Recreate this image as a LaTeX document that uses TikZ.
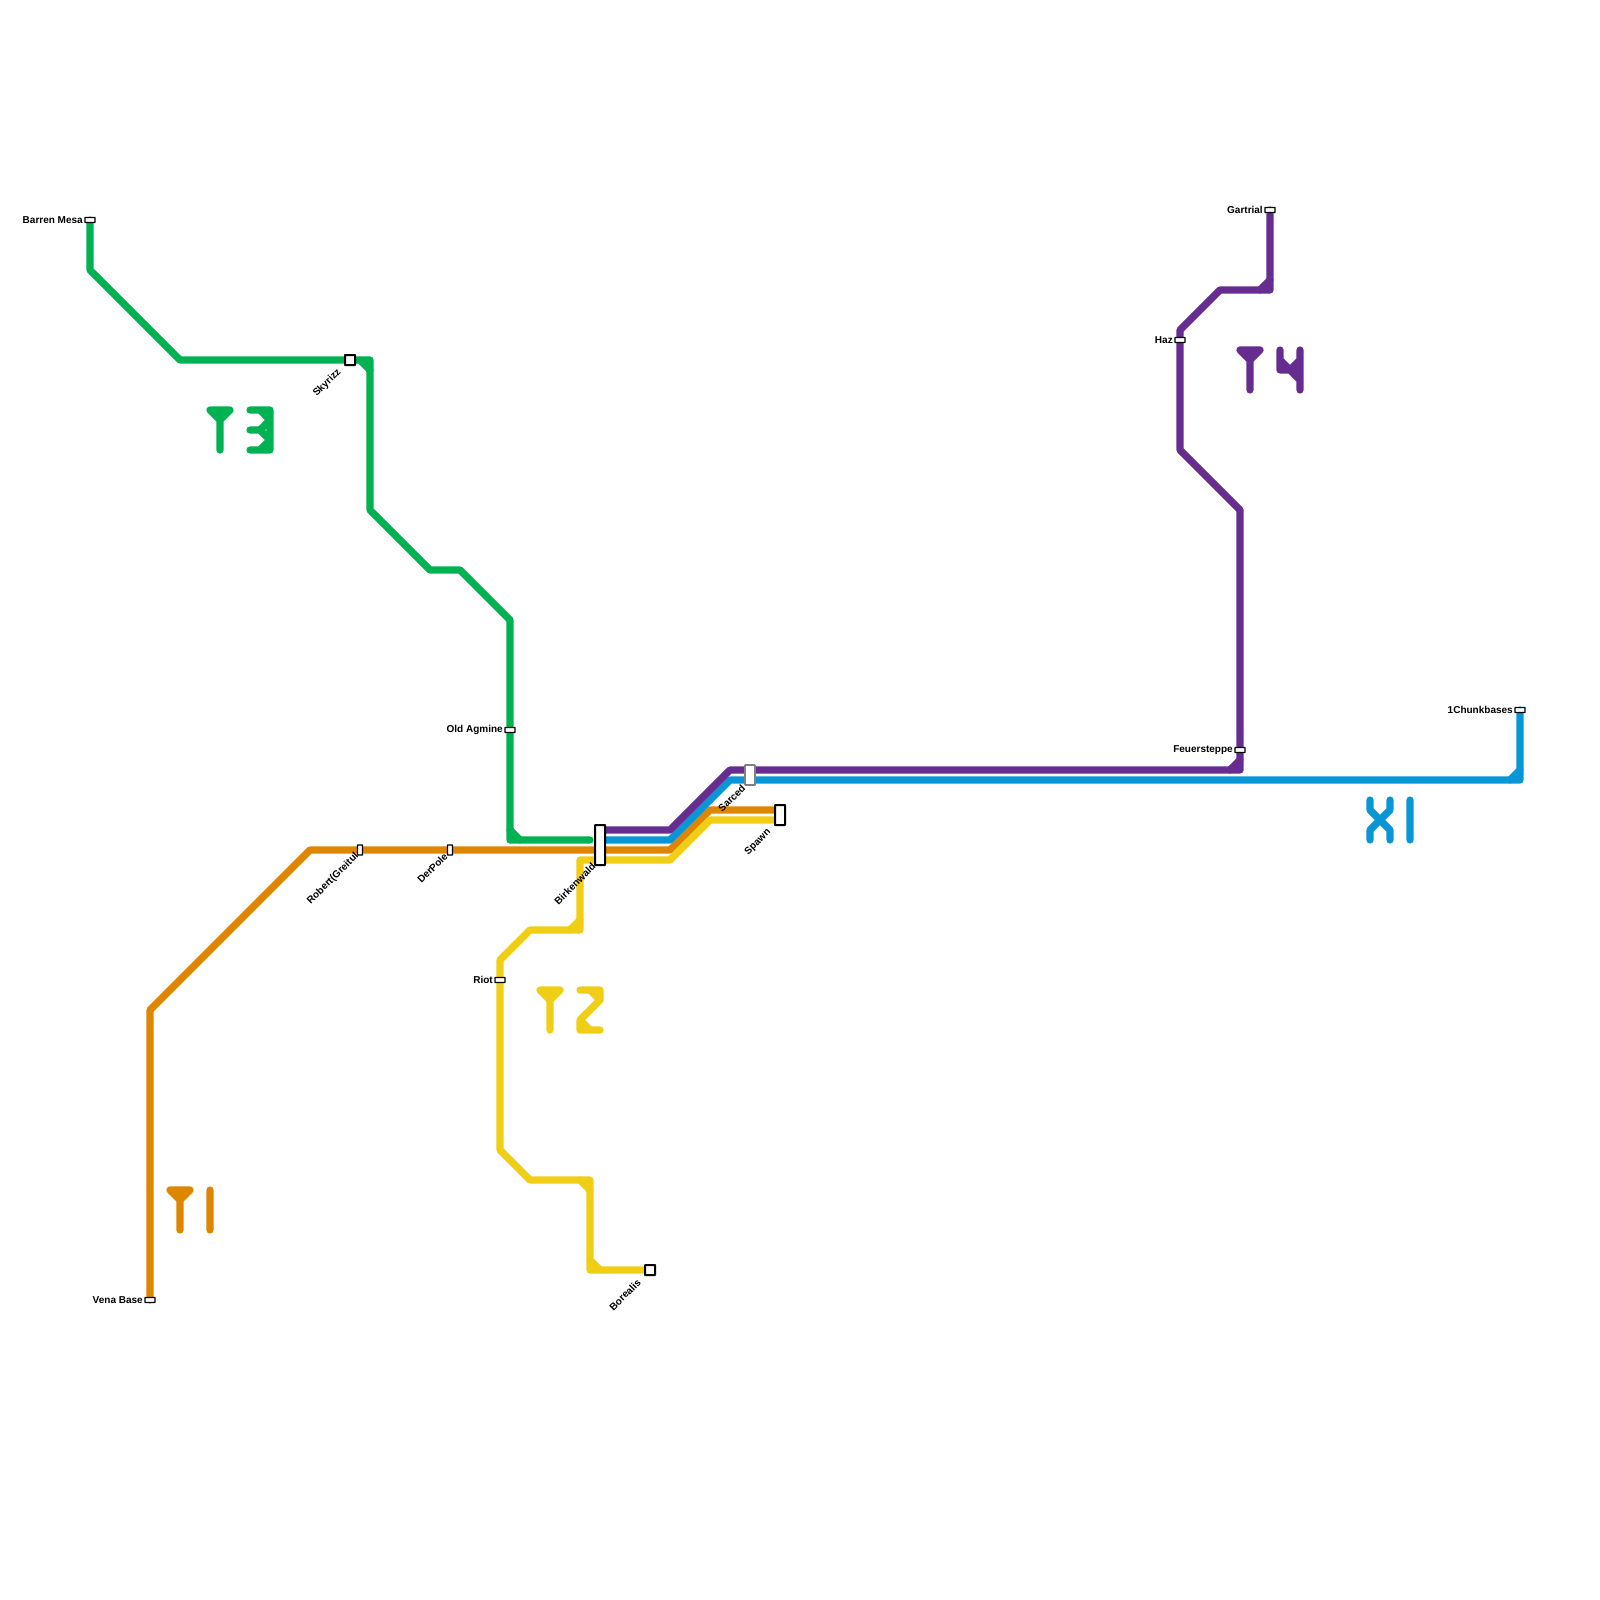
\documentclass[tikz,border=0pt]{standalone}
\usepackage{fontspec}
\setmainfont{Liberation Sans}
\usetikzlibrary{backgrounds}
\definecolor{cG}{HTML}{00B251}
\definecolor{cO}{HTML}{DF8600}
\definecolor{cY}{HTML}{F0CE15}
\definecolor{cB}{HTML}{0896D7}
\definecolor{cP}{HTML}{662C90}
\tikzset{
  x=0.5pt,y=-0.5pt,
  metro/.style={line width=3.6pt,line join=round,line cap=round},
  stn/.style={draw=black,fill=white,line width=0.65pt,inner sep=0pt,rounded corners=0.2pt},
  stnH/.style={stn,minimum width=5pt,minimum height=2.5pt},
  stnV/.style={stn,minimum width=2.5pt,minimum height=5pt},
  stnS/.style={stn,line width=1pt,minimum width=5pt,minimum height=5pt},
  stnT/.style={stn,line width=1pt,minimum width=5pt,minimum height=10pt},
  lab/.style={inner sep=0pt,font=\bfseries\fontsize{5}{6}\selectfont,text=black},
  labL/.style={lab,anchor=east},
  labR/.style={lab,anchor=east,rotate=45},
}
\begin{document}
\begin{tikzpicture}
\useasboundingbox (0,0) rectangle (1600,1600);
% stations
\node[stnH] (barren) at (90,220) {};
\node[stnH] (gartrial) at (1270,210) {};
\node[stnH] (haz) at (1180,340) {};
\node[stnH] (feuer) at (1240,750) {};
\node[stnH] (chunk) at (1520,710) {};
\node[stnH] (agmine) at (510,730) {};
\node[stnH] (riot) at (500,980) {};
\node[stnH] (vena) at (150,1300) {};
\node[stnV] (robert) at (360,850) {};
\node[stnV] (derpole) at (450,850) {};
\node[stnS] (skyrizz) at (350,360) {};
\node[stnS] (boreal) at (650,1270) {};
\node[stnT,minimum height=20pt] (birken) at (600,845) {};
\node[stnT,draw=black!50,line width=0.8pt] (sarced) at (750,775) {};
\node[stnT] (spawn) at (780,815) {};
\coordinate (greenEnd) at (590,840);
% labels
\node[labL] (lBarren) at ([xshift=-0.6pt]barren.west) {Barren Mesa};
\node[labL] (lGartrial) at ([xshift=-0.6pt]gartrial.west) {Gartrial};
\node[labL] (lHaz) at ([xshift=-0.6pt]haz.west) {Haz};
\node[labL] (lFeuer) at ([xshift=-0.6pt]feuer.west) {Feuersteppe};
\node[labL] (lChunk) at ([xshift=-0.6pt]chunk.west) {1Chunkbases};
\node[labL] (lAgmine) at ([xshift=-0.6pt]agmine.west) {Old Agmine};
\node[labL] (lRiot) at ([xshift=-0.6pt]riot.west) {Riot};
\node[labL] (lVena) at ([xshift=-0.6pt]vena.west) {Vena Base};
\node[labR] (lSky) at ([xshift=-2.2pt,yshift=-2.2pt]skyrizz.south west) {Skyrizz};
\node[labR] (lRobert) at ([xshift=0.2pt,yshift=0.6pt]robert.south west) {Robert(Greitul};
\node[labR] (lDer) at ([xshift=-0.4pt,yshift=0.6pt]derpole.south west) {DerPole};
\node[labR] (lBirken) at ([xshift=0pt,yshift=0.6pt]birken.south west) {Birkenwald};
\node[labR] (lSarced) at ([xshift=-0.2pt,yshift=-0.2pt]sarced.south west) {Sarced};
\node[labR] (lSpawn) at ([xshift=-2.2pt,yshift=-2.2pt]spawn.south west) {Spawn};
\node[labR] (lBoreal) at ([xshift=-2.4pt,yshift=-2.2pt]boreal.south west) {Borealis};
\begin{pgfonlayer}{background}
% green
\draw[metro,cG] (barren.center) -- (90,270) -- (180,360) -- (370,360) -- (370,510) -- (430,570) -- (460,570) -- (510,620) -- (510,840) -- (greenEnd);
\draw[metro,cG] (360,360) -- (370,370) (510,830) -- (520,840);
% orange
\draw[metro,cO] (vena.center) -- (150,1010) -- (310,850) -- (670,850) -- (710,810) -- (spawn.center |- 0,810);
% yellow
\draw[metro,cY] (boreal.center) -- (590,1270) -- (590,1180) -- (530,1180) -- (500,1150) -- (500,960) -- (530,930) -- (580,930) -- (580,860) -- (670,860) -- (710,820) -- (spawn.center |- 0,820);
\draw[metro,cY] (580,1180) -- (590,1190) (590,1260) -- (600,1270) (570,930) -- (580,920);
% blue
\draw[metro,cB] (chunk.center) -- (1520,780) -- (730,780) -- (670,840) -- (birken.center |- 0,840);
\draw[metro,cB] (1510,780) -- (1520,770);
% purple
\draw[metro,cP] (gartrial.center) -- (1270,290) -- (1220,290) -- (1180,330) -- (1180,450) -- (1240,510) -- (1240,770) -- (730,770) -- (670,830) -- (birken.center |- 0,830);
\draw[metro,cP] (1260,290) -- (1270,280) (1230,770) -- (1240,760);
\end{pgfonlayer}
% T1
\draw[metro,cO] (170,1190) -- (190,1190) -- (180,1200) -- cycle (180,1190) -- (180,1230) (210,1190) -- (210,1230);
% T3
\draw[metro,cG] (210,410) -- (230,410) -- (220,420) -- cycle (220,410) -- (220,450);
\draw[metro,cG] (250,410) -- (270,410) -- (270,450) -- (250,450) (250,430) -- (260,430) (260,410) -- (270,420) -- (260,430) -- (270,440) -- (260,450);
% T2
\draw[metro,cY] (540,990) -- (560,990) -- (550,1000) -- cycle (550,990) -- (550,1030);
\draw[metro,cY] (580,990) -- (600,990) -- (600,1000) -- (580,1020) -- (580,1030) -- (600,1030) (590,990) -- (600,1000) (580,1020) -- (590,1030);
% T4
\draw[metro,cP] (1240,350) -- (1260,350) -- (1250,360) -- cycle (1250,350) -- (1250,390);
\draw[metro,cP] (1280,350) -- (1280,370) -- (1300,370) (1300,350) -- (1300,390) (1280,360) -- (1290,370) -- (1300,360) (1290,370) -- (1300,380);
% X1
\draw[metro,cB] (1370,800) -- (1370,810) -- (1390,830) -- (1390,840) (1390,800) -- (1390,810) -- (1370,830) -- (1370,840) (1410,800) -- (1410,840);
\end{tikzpicture}
\end{document}
